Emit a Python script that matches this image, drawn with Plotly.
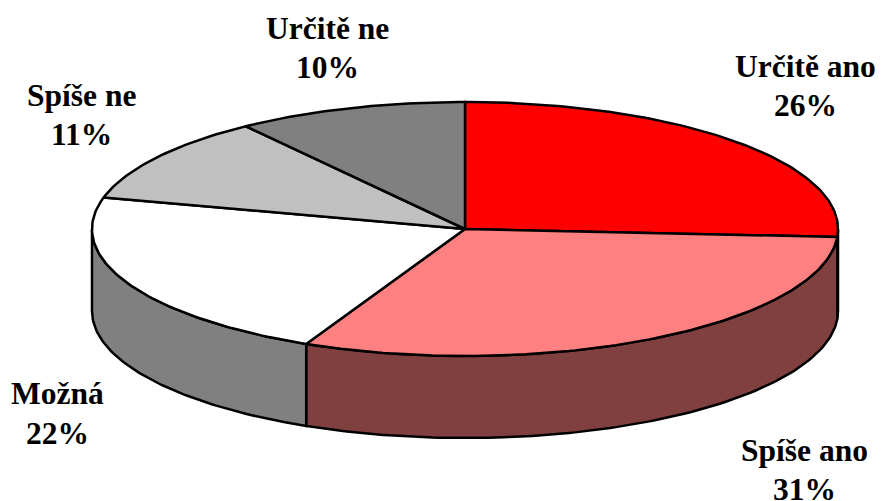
import math
import plotly.graph_objects as go

labels = ["Určitě ano", "Spíše ano", "Možná", "Spíše ne", "Určitě ne"]
values = [26, 31, 22, 11, 10]
top_colors = ["#FF0000", "#FF8080", "#FFFFFF", "#C0C0C0", "#808080"]
side_colors = ["#800000", "#804040", "#808080", "#606060", "#404040"]
label_x = [805, 804, 57, 81, 327]
name_y = [66, 450, 393, 95, 28]
pct_y = [105, 489, 433, 134, 67]

CX, CY, RX, RY, DEPTH = 465, 229, 373, 127, 82
FONT = "Liberation Serif"
FONT_SIZE = 31.5


def pt(angle, dy=0):
    return CX + RX * math.sin(angle), CY - RY * math.cos(angle) + dy


def arc(a0, a1, dy=0):
    n = max(2, int(abs(a1 - a0) * 60))
    return [pt(a0 + (a1 - a0) * i / n, dy) for i in range(n + 1)]


def closed(points, color):
    return go.Scatter(
        x=[p[0] for p in points], y=[p[1] for p in points],
        mode="lines", fill="toself", fillcolor=color,
        line=dict(color="black", width=2.5), hoverinfo="skip", showlegend=False,
    )


fig = go.Figure()
total = sum(values)
edges = [0]
for v in values:
    edges.append(edges[-1] + v / total * 2 * math.pi)

# side walls: only the front half (angle between pi/2 and 3pi/2) is visible
for i, c in enumerate(side_colors):
    a0, a1 = max(edges[i], math.pi / 2), min(edges[i + 1], 3 * math.pi / 2)
    if a1 > a0:
        fig.add_trace(closed(arc(a0, a1) + arc(a1, a0, DEPTH) + [pt(a0)], c))

# top slices
for i, c in enumerate(top_colors):
    fig.add_trace(closed([(CX, CY)] + arc(edges[i], edges[i + 1]) + [(CX, CY)], c))

for name, v, x, y1, y2 in zip(labels, values, label_x, name_y, pct_y):
    for text, y in ((name, y1), (f"{v}%", y2)):
        fig.add_annotation(
            x=x, y=y, xref="x", yref="y", showarrow=False, align="center",
            text=f"<b>{text}</b>", font=dict(family=FONT, size=FONT_SIZE, color="black"),
        )

fig.update_layout(
    width=882, height=501, margin=dict(l=0, r=0, t=0, b=0),
    paper_bgcolor="white", plot_bgcolor="white", showlegend=False,
    xaxis=dict(range=[0, 882], visible=False, fixedrange=True),
    yaxis=dict(range=[501, 0], visible=False, fixedrange=True),
)
fig.write_html("out.html", config={"displayModeBar": False},
               post_script="document.body.style.margin='0';")
